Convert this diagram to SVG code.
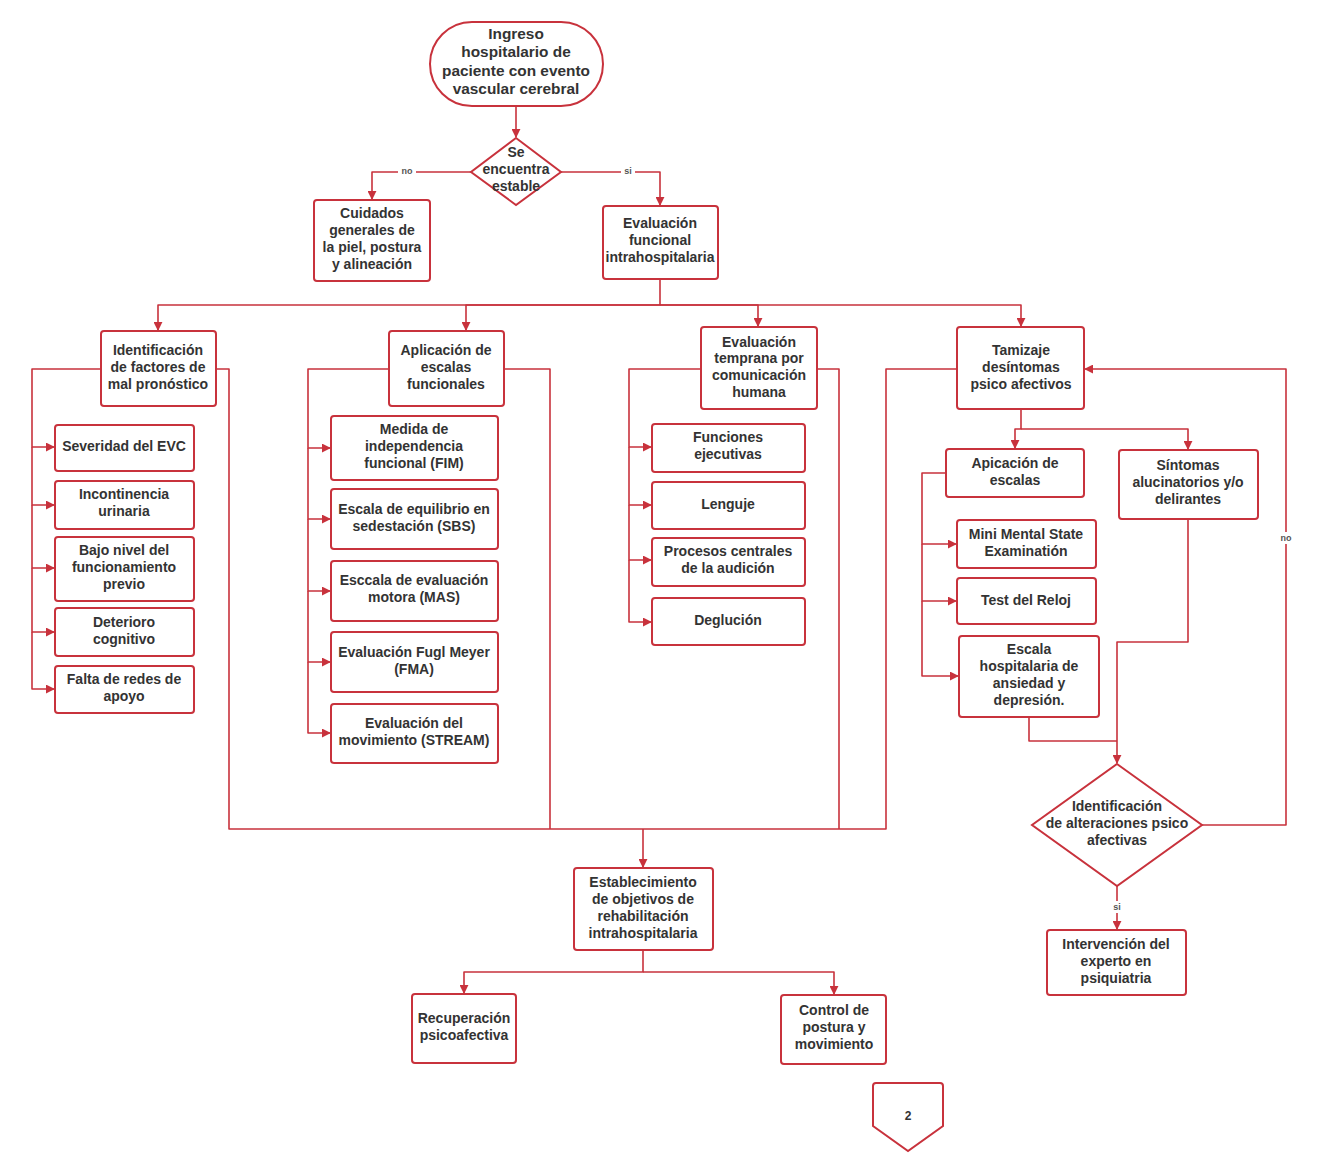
<svg xmlns="http://www.w3.org/2000/svg" width="1322" height="1176" viewBox="0 0 1322 1176">
<defs>
<marker id="ah" viewBox="0 0 10 10" refX="9" refY="5" markerWidth="9" markerHeight="9" markerUnits="userSpaceOnUse" orient="auto">
<path d="M0,0 L10,5 L0,10 z" fill="#c8323c"/>
</marker>
<style>
.n{fill:#fff;stroke:#c8323c;stroke-width:2}
.t{font-family:"Liberation Sans",Arial,sans-serif;font-weight:bold;font-size:14px;fill:#333;text-anchor:middle}
.l{font-family:"Liberation Sans",Arial,sans-serif;font-weight:bold;font-size:9px;fill:#555;text-anchor:middle}
.c{fill:none;stroke:#c8323c;stroke-width:1.6;stroke-linejoin:round}
.a{marker-end:url(#ah)}
</style>
</defs>
<rect width="1322" height="1176" fill="#fff"/>
<g id="connectors">
<path class="c a" d="M516 106 V137"/>
<path class="c a" d="M471 172 H372 V199"/>
<path class="c a" d="M561 172 H660 V205"/>
<path class="c a" d="M660 279 V305 H158 V330"/>
<path class="c a" d="M660 305 H466 V330"/>
<path class="c a" d="M660 305 H758 V326"/>
<path class="c a" d="M660 305 H1021 V326"/>
<path class="c a" d="M101 369 H32 V447 H54"/>
<path class="c a" d="M32 447 V505 H54"/>
<path class="c a" d="M32 505 V568 H54"/>
<path class="c a" d="M32 568 V632 H54"/>
<path class="c a" d="M32 632 V689 H54"/>
<path class="c" d="M216 369 H229 V829 H643"/>
<path class="c a" d="M389 369 H308 V448 H330"/>
<path class="c a" d="M308 448 V519 H330"/>
<path class="c a" d="M308 519 V591 H330"/>
<path class="c a" d="M308 591 V662 H330"/>
<path class="c a" d="M308 662 V733 H330"/>
<path class="c" d="M504 369 H550 V829"/>
<path class="c a" d="M701 369 H629 V447 H651"/>
<path class="c a" d="M629 447 V505 H651"/>
<path class="c a" d="M629 505 V560 H651"/>
<path class="c a" d="M629 560 V622 H651"/>
<path class="c" d="M817 369 H839 V829"/>
<path class="c" d="M957 369 H886 V829 H643"/>
<path class="c a" d="M643 829 V867"/>
<path class="c a" d="M1021 409 V429 H1015 V448"/>
<path class="c a" d="M1021 429 H1188 V449"/>
<path class="c a" d="M946 473 H922 V544 H956"/>
<path class="c a" d="M922 544 V601 H956"/>
<path class="c a" d="M922 601 V676 H958"/>
<path class="c a" d="M1188 519 V642 H1117 V763"/>
<path class="c" d="M1029 717 V741 H1117"/>
<path class="c a" d="M1202 825 H1286 V369 H1085"/>
<path class="c a" d="M1117 886 V929"/>
<path class="c a" d="M643 950 V972 H464 V993"/>
<path class="c a" d="M643 972 H834 V994"/>
<rect x="398" y="165" width="18" height="12" fill="#fff"/>
<text class="l" x="407" y="174">no</text>
<rect x="621" y="165" width="14" height="12" fill="#fff"/>
<text class="l" x="628" y="174">si</text>
<rect x="1277" y="532" width="18" height="12" fill="#fff"/>
<text class="l" x="1286" y="541">no</text>
<rect x="1110" y="901" width="14" height="12" fill="#fff"/>
<text class="l" x="1117" y="910">si</text>
</g>
<g id="start">
<rect class="n" x="430" y="22" width="173" height="84" rx="42"/>
<text class="t" x="516" y="39" style="font-size:15.4px">Ingreso</text>
<text class="t" x="516" y="57" style="font-size:15.4px">hospitalario de</text>
<text class="t" x="516" y="76" style="font-size:15.4px">paciente con evento</text>
<text class="t" x="516" y="94" style="font-size:15.4px">vascular cerebral</text>
</g>
<g id="decision1">
<path class="n" d="M516 138 L561 172 L516 205 L471 172 z"/>
<text class="t" x="516" y="157">Se</text>
<text class="t" x="516" y="174">encuentra</text>
<text class="t" x="516" y="191">estable</text>
</g>
<g id="cuidados">
<rect class="n" x="314" y="200" width="116" height="81" rx="3"/>
<text class="t" x="372" y="218">Cuidados</text>
<text class="t" x="372" y="235">generales de</text>
<text class="t" x="372" y="252">la piel, postura</text>
<text class="t" x="372" y="269">y alineación</text>
</g>
<g id="evalfuncional">
<rect class="n" x="603" y="206" width="115" height="73" rx="3"/>
<text class="t" x="660" y="228">Evaluación</text>
<text class="t" x="660" y="245">funcional</text>
<text class="t" x="660" y="262">intrahospitalaria</text>
</g>
<g id="identificacion">
<rect class="n" x="101" y="331" width="115" height="75" rx="3"/>
<text class="t" x="158" y="355">Identificación</text>
<text class="t" x="158" y="372">de factores de</text>
<text class="t" x="158" y="389">mal pronóstico</text>
</g>
<g id="severidad">
<rect class="n" x="55" y="425" width="139" height="46" rx="3"/>
<text class="t" x="124" y="451">Severidad del EVC</text>
</g>
<g id="incontinencia">
<rect class="n" x="55" y="481" width="139" height="48" rx="3"/>
<text class="t" x="124" y="499">Incontinencia</text>
<text class="t" x="124" y="516">urinaria</text>
</g>
<g id="bajonivel">
<rect class="n" x="55" y="537" width="139" height="64" rx="3"/>
<text class="t" x="124" y="555">Bajo nivel del</text>
<text class="t" x="124" y="572">funcionamiento</text>
<text class="t" x="124" y="589">previo</text>
</g>
<g id="deterioro">
<rect class="n" x="55" y="608" width="139" height="48" rx="3"/>
<text class="t" x="124" y="627">Deterioro</text>
<text class="t" x="124" y="644">cognitivo</text>
</g>
<g id="falta">
<rect class="n" x="55" y="666" width="139" height="47" rx="3"/>
<text class="t" x="124" y="684">Falta de redes de</text>
<text class="t" x="124" y="701">apoyo</text>
</g>
<g id="aplicacion">
<rect class="n" x="389" y="331" width="115" height="75" rx="3"/>
<text class="t" x="446" y="355">Aplicación de</text>
<text class="t" x="446" y="372">escalas</text>
<text class="t" x="446" y="389">funcionales</text>
</g>
<g id="fim">
<rect class="n" x="331" y="416" width="167" height="64" rx="3"/>
<text class="t" x="414" y="434">Medida de</text>
<text class="t" x="414" y="451">independencia</text>
<text class="t" x="414" y="468">funcional (FIM)</text>
</g>
<g id="sbs">
<rect class="n" x="331" y="489" width="167" height="60" rx="3"/>
<text class="t" x="414" y="514">Escala de equilibrio en</text>
<text class="t" x="414" y="531">sedestación (SBS)</text>
</g>
<g id="mas">
<rect class="n" x="331" y="561" width="167" height="60" rx="3"/>
<text class="t" x="414" y="585">Esccala de evaluación</text>
<text class="t" x="414" y="602">motora (MAS)</text>
</g>
<g id="fma">
<rect class="n" x="331" y="632" width="167" height="60" rx="3"/>
<text class="t" x="414" y="657">Evaluación Fugl Meyer</text>
<text class="t" x="414" y="674">(FMA)</text>
</g>
<g id="stream">
<rect class="n" x="331" y="704" width="167" height="59" rx="3"/>
<text class="t" x="414" y="728">Evaluación del</text>
<text class="t" x="414" y="745">movimiento (STREAM)</text>
</g>
<g id="evaltemprana">
<rect class="n" x="701" y="327" width="116" height="82" rx="3"/>
<text class="t" x="759" y="347">Evaluación</text>
<text class="t" x="759" y="363">temprana por</text>
<text class="t" x="759" y="380">comunicación</text>
<text class="t" x="759" y="397">humana</text>
</g>
<g id="funciones">
<rect class="n" x="652" y="424" width="153" height="48" rx="3"/>
<text class="t" x="728" y="442">Funciones</text>
<text class="t" x="728" y="459">ejecutivas</text>
</g>
<g id="lenguje">
<rect class="n" x="652" y="482" width="153" height="47" rx="3"/>
<text class="t" x="728" y="509">Lenguje</text>
</g>
<g id="procesos">
<rect class="n" x="652" y="538" width="153" height="48" rx="3"/>
<text class="t" x="728" y="556">Procesos centrales</text>
<text class="t" x="728" y="573">de la audición</text>
</g>
<g id="deglucion">
<rect class="n" x="652" y="598" width="153" height="47" rx="3"/>
<text class="t" x="728" y="625">Deglución</text>
</g>
<g id="tamizaje">
<rect class="n" x="957" y="327" width="127" height="82" rx="3"/>
<text class="t" x="1021" y="355">Tamizaje</text>
<text class="t" x="1021" y="372">desíntomas</text>
<text class="t" x="1021" y="389">psico afectivos</text>
</g>
<g id="apicacion">
<rect class="n" x="946" y="449" width="138" height="48" rx="3"/>
<text class="t" x="1015" y="468">Apicación de</text>
<text class="t" x="1015" y="485">escalas</text>
</g>
<g id="sintomas">
<rect class="n" x="1119" y="450" width="139" height="69" rx="3"/>
<text class="t" x="1188" y="470">Síntomas</text>
<text class="t" x="1188" y="487">alucinatorios y/o</text>
<text class="t" x="1188" y="504">delirantes</text>
</g>
<g id="minimental">
<rect class="n" x="957" y="520" width="139" height="48" rx="3"/>
<text class="t" x="1026" y="539">Mini Mental State</text>
<text class="t" x="1026" y="556">Examinatión</text>
</g>
<g id="reloj">
<rect class="n" x="957" y="578" width="139" height="46" rx="3"/>
<text class="t" x="1026" y="605">Test del Reloj</text>
</g>
<g id="escalahosp">
<rect class="n" x="959" y="636" width="140" height="81" rx="3"/>
<text class="t" x="1029" y="654">Escala</text>
<text class="t" x="1029" y="671">hospitalaria de</text>
<text class="t" x="1029" y="688">ansiedad y</text>
<text class="t" x="1029" y="705">depresión.</text>
</g>
<g id="decision2">
<path class="n" d="M1117 764 L1202 825 L1117 886 L1032 825 z"/>
<text class="t" x="1117" y="811">Identificación</text>
<text class="t" x="1117" y="828">de alteraciones psico</text>
<text class="t" x="1117" y="845">afectivas</text>
</g>
<g id="intervencion">
<rect class="n" x="1047" y="930" width="139" height="65" rx="3"/>
<text class="t" x="1116" y="949">Intervención del</text>
<text class="t" x="1116" y="966">experto en</text>
<text class="t" x="1116" y="983">psiquiatria</text>
</g>
<g id="establecimiento">
<rect class="n" x="574" y="868" width="139" height="82" rx="3"/>
<text class="t" x="643" y="887">Establecimiento</text>
<text class="t" x="643" y="904">de objetivos de</text>
<text class="t" x="643" y="921">rehabilitación</text>
<text class="t" x="643" y="938">intrahospitalaria</text>
</g>
<g id="recuperacion">
<rect class="n" x="412" y="994" width="104" height="69" rx="3"/>
<text class="t" x="464" y="1023">Recuperación</text>
<text class="t" x="464" y="1040">psicoafectiva</text>
</g>
<g id="control">
<rect class="n" x="781" y="995" width="105" height="69" rx="3"/>
<text class="t" x="834" y="1015">Control de</text>
<text class="t" x="834" y="1032">postura y</text>
<text class="t" x="834" y="1049">movimiento</text>
</g>
<g id="offpage">
<path class="n" d="M876 1083 H940 Q943 1083 943 1086 V1126 L908 1151 L873 1126 V1086 Q873 1083 876 1083 z"/>
<text class="t" x="908" y="1120" style="font-size:12px">2</text>
</g>
</svg>
